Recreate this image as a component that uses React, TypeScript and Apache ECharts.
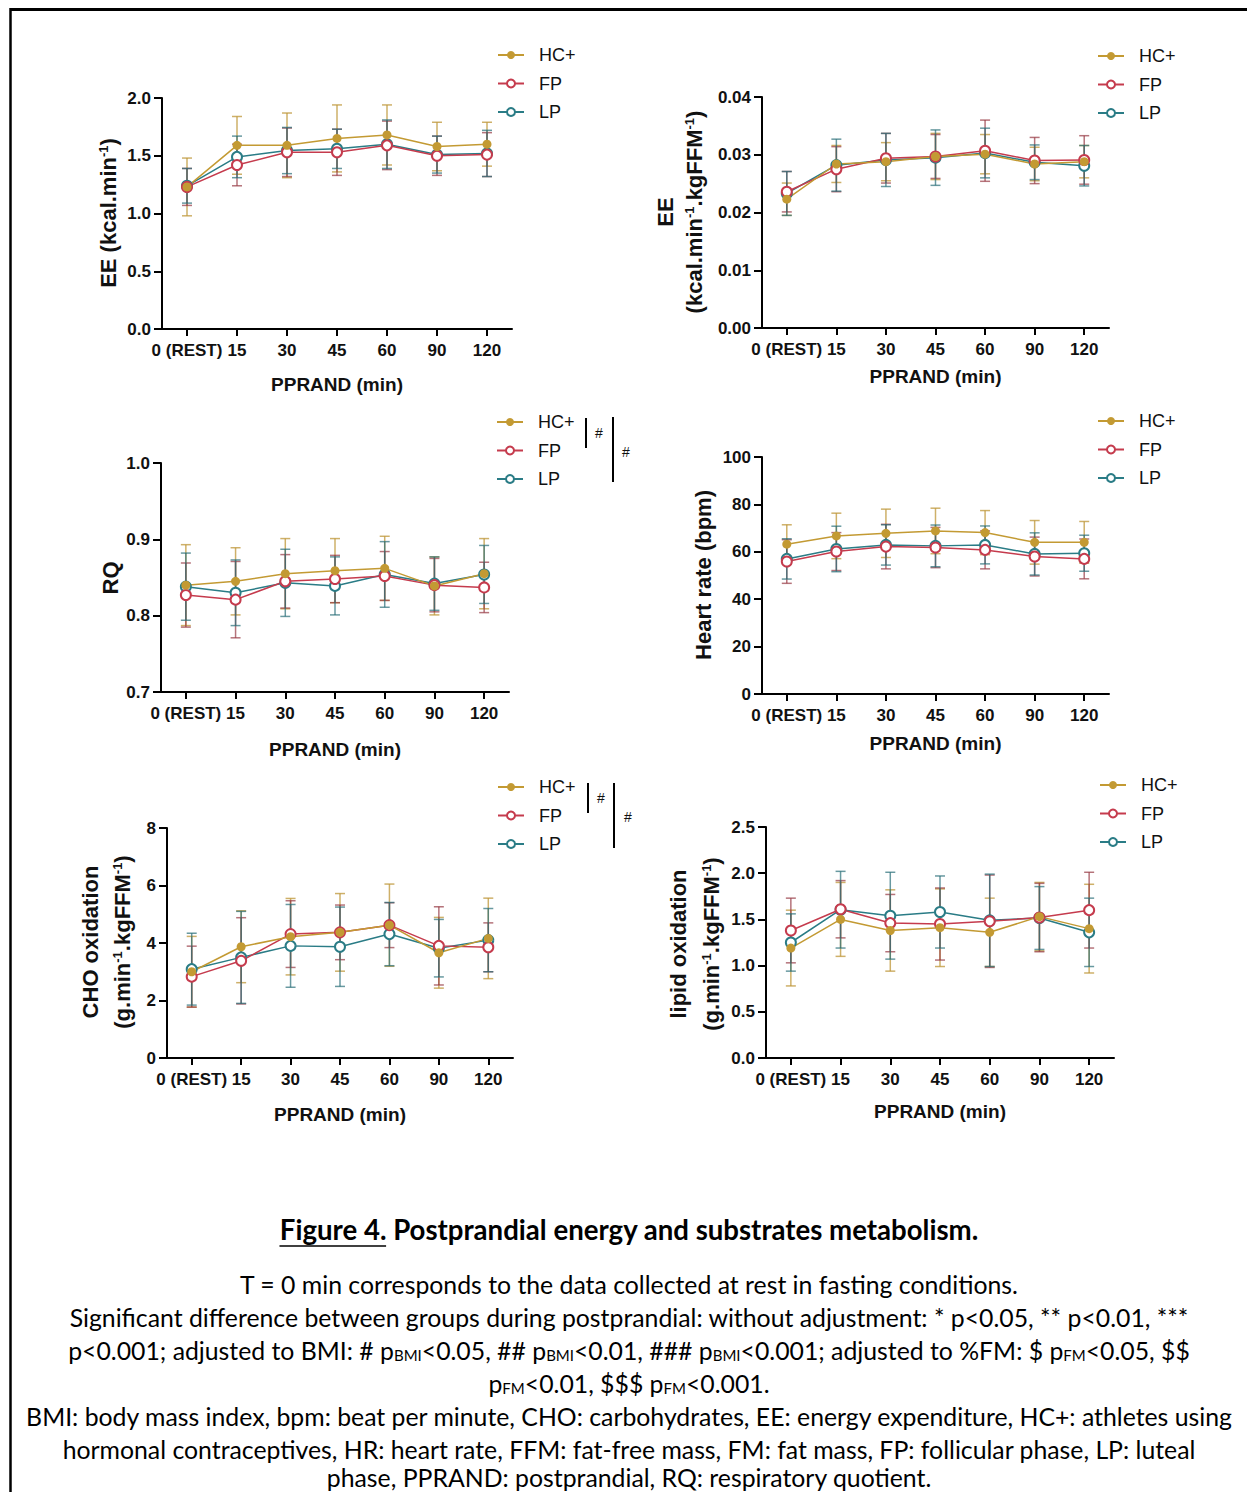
import React, { useEffect, useRef } from 'react';
import * as echarts from 'echarts';

// ---------------- DATA ----------------
const categories = ['0 (REST)', '15', '30', '45', '60', '90', '120'];
const groupNames = ['HC+', 'FP', 'LP'];

// Panel A: EE (kcal.min-1)
const eeHC = [1.23, 1.59, 1.59, 1.65, 1.68, 1.58, 1.6];
const eeHCsd = [0.25, 0.25, 0.28, 0.29, 0.26, 0.21, 0.19];
const eeFP = [1.23, 1.42, 1.53, 1.53, 1.59, 1.5, 1.51];
const eeFPsd = [0.16, 0.18, 0.21, 0.2, 0.21, 0.17, 0.19];
const eeLP = [1.24, 1.49, 1.545, 1.56, 1.6, 1.51, 1.52];
const eeLPsd = [0.15, 0.18, 0.2, 0.17, 0.21, 0.16, 0.2];

// Panel B: EE (kcal.min-1.kgFFM-1)
const eeFfmHC = [0.0223, 0.0284, 0.0288, 0.0297, 0.0301, 0.0284, 0.0288];
const eeFfmHCsd = [0.0028, 0.0032, 0.0033, 0.004, 0.0034, 0.0029, 0.0028];
const eeFfmFP = [0.0236, 0.0275, 0.0294, 0.0297, 0.0307, 0.029, 0.0291];
const eeFfmFPsd = [0.0035, 0.0039, 0.0043, 0.0038, 0.0053, 0.004, 0.0042];
const eeFfmLP = [0.0233, 0.0282, 0.0291, 0.0295, 0.0303, 0.0287, 0.0281];
const eeFfmLPsd = [0.0038, 0.0045, 0.0046, 0.0048, 0.0043, 0.003, 0.0035];

// Panel C: RQ
const rqHC = [0.84, 0.845, 0.855, 0.859, 0.862, 0.839, 0.855];
const rqHCsd = [0.053, 0.044, 0.046, 0.042, 0.042, 0.038, 0.046];
const rqFP = [0.827, 0.821, 0.845, 0.848, 0.852, 0.84, 0.837];
const rqFPsd = [0.042, 0.05, 0.035, 0.031, 0.032, 0.035, 0.033];
const rqLP = [0.838, 0.83, 0.843, 0.839, 0.854, 0.842, 0.854];
const rqLPsd = [0.044, 0.043, 0.044, 0.038, 0.043, 0.035, 0.038];

// Panel D: Heart rate (bpm)
const hrHC = [63.2, 66.7, 67.8, 68.8, 68.1, 64.0, 64.0];
const hrHCsd = [8.2, 9.6, 10.2, 9.6, 9.3, 9.2, 8.8];
const hrFP = [55.9, 60.1, 62.2, 61.8, 60.8, 58.0, 57.0];
const hrFPsd = [9.2, 8.0, 9.4, 8.5, 8.0, 8.2, 8.4];
const hrLP = [57.0, 61.2, 62.9, 62.5, 62.9, 59.1, 59.4];
const hrLPsd = [8.5, 9.6, 8.5, 8.8, 8.0, 8.9, 7.6];

// Panel E: CHO oxidation
const choHC = [3.0, 3.87, 4.22, 4.37, 4.62, 3.66, 4.16];
const choHCsd = [1.23, 1.25, 1.33, 1.35, 1.43, 1.23, 1.4];
const choFP = [2.83, 3.38, 4.31, 4.37, 4.62, 3.9, 3.85];
const choFPsd = [1.06, 1.5, 1.16, 0.95, 0.78, 1.36, 0.85];
const choLP = [3.09, 3.5, 3.9, 3.87, 4.31, 3.82, 4.1];
const choLPsd = [1.25, 1.6, 1.44, 1.38, 1.1, 1.0, 1.1];

// Panel F: lipid oxidation
const lipHC = [1.19, 1.5, 1.38, 1.41, 1.36, 1.53, 1.4];
const lipHCsd = [0.41, 0.4, 0.44, 0.42, 0.37, 0.37, 0.48];
const lipFP = [1.38, 1.61, 1.46, 1.45, 1.48, 1.52, 1.6];
const lipFPsd = [0.35, 0.31, 0.31, 0.39, 0.5, 0.37, 0.41];
const lipLP = [1.25, 1.605, 1.54, 1.58, 1.49, 1.515, 1.36];
const lipLPsd = [0.31, 0.415, 0.47, 0.39, 0.5, 0.34, 0.37];

const xAxisTitle = 'PPRAND (min)';

const captionTitle = 'Figure 4. Postprandial energy and substrates metabolism.';
const captionTitleLead = 'Figure 4.';
const captionLines = [
  'T = 0 min corresponds to the data collected at rest in fasting conditions.',
  'Significant difference between groups during postprandial: without adjustment: * p<0.05, ** p<0.01, ***',
  'p<0.001; adjusted to BMI: # p{s|BMI}<0.05, ## p{s|BMI}<0.01, ### p{s|BMI}<0.001; adjusted to %FM: $ p{s|FM}<0.05, $$',
  'p{s|FM}<0.01, $$$ p{s|FM}<0.001.',
  'BMI: body mass index, bpm: beat per minute, CHO: carbohydrates, EE: energy expenditure, HC+: athletes using',
  'hormonal contraceptives, HR: heart rate, FFM: fat-free mass, FM: fat mass, FP: follicular phase, LP: luteal',
  'phase, PPRAND: postprandial, RQ: respiratory quotient.',
];

// ---------------- STYLE / LAYOUT ----------------
const W = 1247;
const H = 1492;
const AX_FONT = "'Liberation Sans', Arial, Helvetica, sans-serif";
const CAP_FONT = "Lato, 'Open Sans', sans-serif";
const COLORS: Record<string, string> = { 'HC+': '#C39A33', FP: '#C53B4D', LP: '#2A7C86' };
const BAR_COLORS: Record<string, string> = {
  'HC+': 'rgba(190,150,55,0.75)',
  FP: 'rgba(150,55,65,0.7)',
  LP: 'rgba(40,110,120,0.7)',
};

type PanelDef = {
  series: { name: string; mean: number[]; sd: number[] }[];
  min: number;
  max: number;
  interval: number;
  decimals: number;
  grid: { left: number; top: number; width: number; height: number };
  legend: { left: number; top: number };
  xNameGap: number;
  yNames: string[];
  yNameX: number[];
  yNameY: number;
};

const panels: PanelDef[] = [
  {
    series: [
      { name: 'HC+', mean: eeHC, sd: eeHCsd },
      { name: 'FP', mean: eeFP, sd: eeFPsd },
      { name: 'LP', mean: eeLP, sd: eeLPsd },
    ],
    min: 0, max: 2, interval: 0.5, decimals: 1,
    grid: { left: 162, top: 98, width: 350, height: 231 },
    legend: { left: 497, top: 45 },
    xNameGap: 46,
    yNames: ['EE (kcal.min{sup|-1})'],
    yNameX: [108],
    yNameY: 213,
  },
  {
    series: [
      { name: 'HC+', mean: eeFfmHC, sd: eeFfmHCsd },
      { name: 'FP', mean: eeFfmFP, sd: eeFfmFPsd },
      { name: 'LP', mean: eeFfmLP, sd: eeFfmLPsd },
    ],
    min: 0, max: 0.04, interval: 0.01, decimals: 2,
    grid: { left: 762, top: 97, width: 347, height: 231 },
    legend: { left: 1097, top: 46 },
    xNameGap: 39,
    yNames: ['EE', '(kcal.min{sup|-1}.kgFFM{sup|-1})'],
    yNameX: [665, 694],
    yNameY: 212,
  },
  {
    series: [
      { name: 'HC+', mean: rqHC, sd: rqHCsd },
      { name: 'FP', mean: rqFP, sd: rqFPsd },
      { name: 'LP', mean: rqLP, sd: rqLPsd },
    ],
    min: 0.7, max: 1.0, interval: 0.1, decimals: 1,
    grid: { left: 161, top: 463, width: 348, height: 229 },
    legend: { left: 496, top: 412 },
    xNameGap: 48,
    yNames: ['RQ'],
    yNameX: [110],
    yNameY: 578,
  },
  {
    series: [
      { name: 'HC+', mean: hrHC, sd: hrHCsd },
      { name: 'FP', mean: hrFP, sd: hrFPsd },
      { name: 'LP', mean: hrLP, sd: hrLPsd },
    ],
    min: 0, max: 100, interval: 20, decimals: 0,
    grid: { left: 762, top: 457, width: 347, height: 237 },
    legend: { left: 1097, top: 411 },
    xNameGap: 40,
    yNames: ['Heart rate (bpm)'],
    yNameX: [703],
    yNameY: 575,
  },
  {
    series: [
      { name: 'HC+', mean: choHC, sd: choHCsd },
      { name: 'FP', mean: choFP, sd: choFPsd },
      { name: 'LP', mean: choLP, sd: choLPsd },
    ],
    min: 0, max: 8, interval: 2, decimals: 0,
    grid: { left: 167, top: 828, width: 346, height: 230 },
    legend: { left: 497, top: 777 },
    xNameGap: 47,
    yNames: ['CHO oxidation', '(g.min{sup|-1}.kgFFM{sup|-1})'],
    yNameX: [90, 122],
    yNameY: 942,
  },
  {
    series: [
      { name: 'HC+', mean: lipHC, sd: lipHCsd },
      { name: 'FP', mean: lipFP, sd: lipFPsd },
      { name: 'LP', mean: lipLP, sd: lipLPsd },
    ],
    min: 0, max: 2.5, interval: 0.5, decimals: 1,
    grid: { left: 766, top: 827, width: 348, height: 231 },
    legend: { left: 1099, top: 775 },
    xNameGap: 44,
    yNames: ['lipid oxidation', '(g.min{sup|-1}.kgFFM{sup|-1})'],
    yNameX: [678, 711],
    yNameY: 944,
  },
];

// significance brackets (panel C and E): [shortX, shortTop, shortBottom, hash1X, hash1Y, longX, longTop, longBottom, hash2X, hash2Y]
const brackets = [
  [586, 418, 448, 599, 433, 613, 417, 482, 626, 452],
  [588, 783, 813, 601, 798, 614, 783, 848, 628, 817],
];

function measure(text: string, font: string): number {
  const c = document.createElement('canvas').getContext('2d');
  if (!c) return text.length * 10;
  c.font = font;
  return c.measureText(text).width;
}

function makeErrorRender(color: string) {
  return (params: any, api: any) => {
    const x = api.value(0);
    const lo = api.coord([x, api.value(1)]);
    const hi = api.coord([x, api.value(2)]);
    const hw = 5;
    const style = { stroke: color, lineWidth: 1.5, fill: 'none' };
    return {
      type: 'group',
      children: [
        { type: 'line', shape: { x1: lo[0], y1: lo[1], x2: hi[0], y2: hi[1] }, style },
        { type: 'line', shape: { x1: hi[0] - hw, y1: hi[1], x2: hi[0] + hw, y2: hi[1] }, style },
        { type: 'line', shape: { x1: lo[0] - hw, y1: lo[1], x2: lo[0] + hw, y2: lo[1] }, style },
      ],
    };
  };
}

function buildOption() {
  const grid: any[] = [];
  const xAxis: any[] = [];
  const yAxis: any[] = [];
  const legend: any[] = [];
  const series: any[] = [];
  const graphic: any[] = [];

  panels.forEach((p, i) => {
    grid.push({ ...p.grid, containLabel: false });
    xAxis.push({
      type: 'category',
      gridIndex: i,
      data: categories,
      boundaryGap: true,
      name: xAxisTitle,
      nameLocation: 'middle',
      nameGap: p.xNameGap,
      nameTextStyle: { fontFamily: AX_FONT, fontWeight: 'bold', fontSize: 19, color: '#111' },
      axisLine: { show: true, lineStyle: { color: '#000', width: 2 } },
      axisTick: { show: true, alignWithLabel: true, length: 7, lineStyle: { color: '#000', width: 2 } },
      axisLabel: {
        interval: 0,
        margin: 13,
        fontFamily: AX_FONT,
        fontWeight: 'bold',
        fontSize: 17,
        color: '#111',
      },
      splitLine: { show: false },
    });
    yAxis.push({
      type: 'value',
      gridIndex: i,
      min: p.min,
      max: p.max,
      interval: p.interval,
      axisLine: { show: true, lineStyle: { color: '#000', width: 2 } },
      axisTick: { show: true, length: 8, lineStyle: { color: '#000', width: 2 } },
      axisLabel: {
        margin: 11,
        fontFamily: AX_FONT,
        fontWeight: 'bold',
        fontSize: 17,
        color: '#111',
        formatter: (v: number) => v.toFixed(p.decimals),
      },
      splitLine: { show: false },
    });
    legend.push({
      data: groupNames,
      orient: 'vertical',
      left: p.legend.left,
      top: p.legend.top,
      padding: 0,
      itemWidth: 26,
      itemHeight: 10,
      itemGap: 8.5,
      selectedMode: false,
      textStyle: {
        fontFamily: AX_FONT,
        fontSize: 18,
        color: '#111',
        lineHeight: 20,
        padding: [0, 0, 0, 10],
      },
    });

    // error bars first
    p.series.forEach((s) => {
      series.push({
        type: 'custom',
        name: s.name + ' SD',
        xAxisIndex: i,
        yAxisIndex: i,
        renderItem: makeErrorRender(BAR_COLORS[s.name]),
        data: s.mean.map((m, k) => [k, m - s.sd[k], m + s.sd[k]]),
        encode: { x: 0, y: [1, 2] },
        silent: true,
        clip: false,
        z: 2,
      });
    });
    // lines: LP, FP, then HC+ on top
    [...p.series].reverse().forEach((s) => {
      const filled = s.name === 'HC+';
      series.push({
        type: 'line',
        name: s.name,
        xAxisIndex: i,
        yAxisIndex: i,
        data: s.mean,
        symbol: filled ? 'circle' : 'emptyCircle',
        symbolSize: filled ? 9 : 10,
        showAllSymbol: true,
        lineStyle: { color: COLORS[s.name], width: 1.5 },
        itemStyle: { color: COLORS[s.name], borderColor: COLORS[s.name], borderWidth: filled ? 0 : 2 },
        emphasis: { disabled: true },
        z: 3,
      });
    });

    // y-axis titles (rotated)
    p.yNames.forEach((t, j) => {
      graphic.push({
        type: 'text',
        x: p.yNameX[j],
        y: p.yNameY,
        rotation: Math.PI / 2,
        silent: true,
        style: {
          text: t,
          align: 'center',
          verticalAlign: 'middle',
          fontFamily: AX_FONT,
          fontWeight: 'bold',
          fontSize: 22,
          fill: '#111',
          rich: {
            sup: { fontFamily: AX_FONT, fontWeight: 'bold', fontSize: 13, verticalAlign: 'top', fill: '#111' },
          },
        },
      });
    });
  });

  // significance brackets
  brackets.forEach((b) => {
    const ls = { stroke: '#000', lineWidth: 2 };
    graphic.push({ type: 'line', shape: { x1: b[0], y1: b[1], x2: b[0], y2: b[2] }, style: ls, silent: true });
    graphic.push({ type: 'line', shape: { x1: b[5], y1: b[6], x2: b[5], y2: b[7] }, style: ls, silent: true });
    graphic.push({
      type: 'text', x: b[3], y: b[4], silent: true,
      style: { text: '#', align: 'center', verticalAlign: 'middle', fontFamily: AX_FONT, fontSize: 14, fill: '#111' },
    });
    graphic.push({
      type: 'text', x: b[8], y: b[9], silent: true,
      style: { text: '#', align: 'center', verticalAlign: 'middle', fontFamily: AX_FONT, fontSize: 14, fill: '#111' },
    });
  });

  // frame (top and left border)
  graphic.push({ type: 'line', shape: { x1: 10, y1: 9.5, x2: W, y2: 9.5 }, style: { stroke: '#000', lineWidth: 3 }, silent: true });
  graphic.push({ type: 'line', shape: { x1: 10.5, y1: 8, x2: 10.5, y2: H }, style: { stroke: '#000', lineWidth: 2.5 }, silent: true });

  // caption
  const cx = 629;
  const titleBase = 20;
  const titleW = measure(captionTitle, `bold ${titleBase}px ${CAP_FONT}`);
  const titleSize = Math.round(((titleBase * 700) / titleW) * 10) / 10;
  const titleFont = `bold ${titleSize}px ${CAP_FONT}`;
  const tW = measure(captionTitle, titleFont);
  const leadW = measure(captionTitleLead, titleFont);
  const titleY = 1229;
  graphic.push({
    type: 'text', x: cx, y: titleY, silent: true,
    style: {
      text: captionTitle, align: 'center', verticalAlign: 'middle',
      fontFamily: CAP_FONT, fontWeight: 'bold', fontSize: titleSize, fill: '#000',
    },
  });
  const ux = cx - tW / 2;
  graphic.push({
    type: 'line', silent: true,
    shape: { x1: ux, y1: titleY + titleSize * 0.62, x2: ux + leadW, y2: titleY + titleSize * 0.62 },
    style: { stroke: '#000', lineWidth: 1.5 },
  });

  const bodyBase = 20;
  const refLine = captionLines[4];
  const bw = measure(refLine, `${bodyBase}px ${CAP_FONT}`);
  const bodySize = Math.round(((bodyBase * 1208) / bw) * 10) / 10;
  const lineYs = [1284, 1317, 1350, 1383, 1416, 1449, 1477];
  captionLines.forEach((t, k) => {
    graphic.push({
      type: 'text', x: cx, y: lineYs[k], silent: true,
      style: {
        text: t, align: 'center', verticalAlign: 'middle',
        fontFamily: CAP_FONT, fontSize: bodySize, fill: '#000',
        rich: {
          s: { fontFamily: CAP_FONT, fontSize: Math.round(bodySize * 0.62), verticalAlign: 'bottom', fill: '#000' },
        },
      },
    });
  });

  return {
    animation: false,
    backgroundColor: '#fff',
    textStyle: { fontFamily: AX_FONT },
    grid,
    xAxis,
    yAxis,
    legend,
    series,
    graphic,
  };
}

export default function App() {
  const ref = useRef<HTMLDivElement>(null);
  useEffect(() => {
    if (!ref.current) return;
    const chart = echarts.init(ref.current, null, { renderer: 'svg' });
    chart.setOption(buildOption() as any);
    return () => chart.dispose();
  }, []);
  return (
    <div
      ref={ref}
      style={{ position: 'absolute', left: 0, top: 0, width: W, height: H, background: '#fff' }}
    />
  );
}
